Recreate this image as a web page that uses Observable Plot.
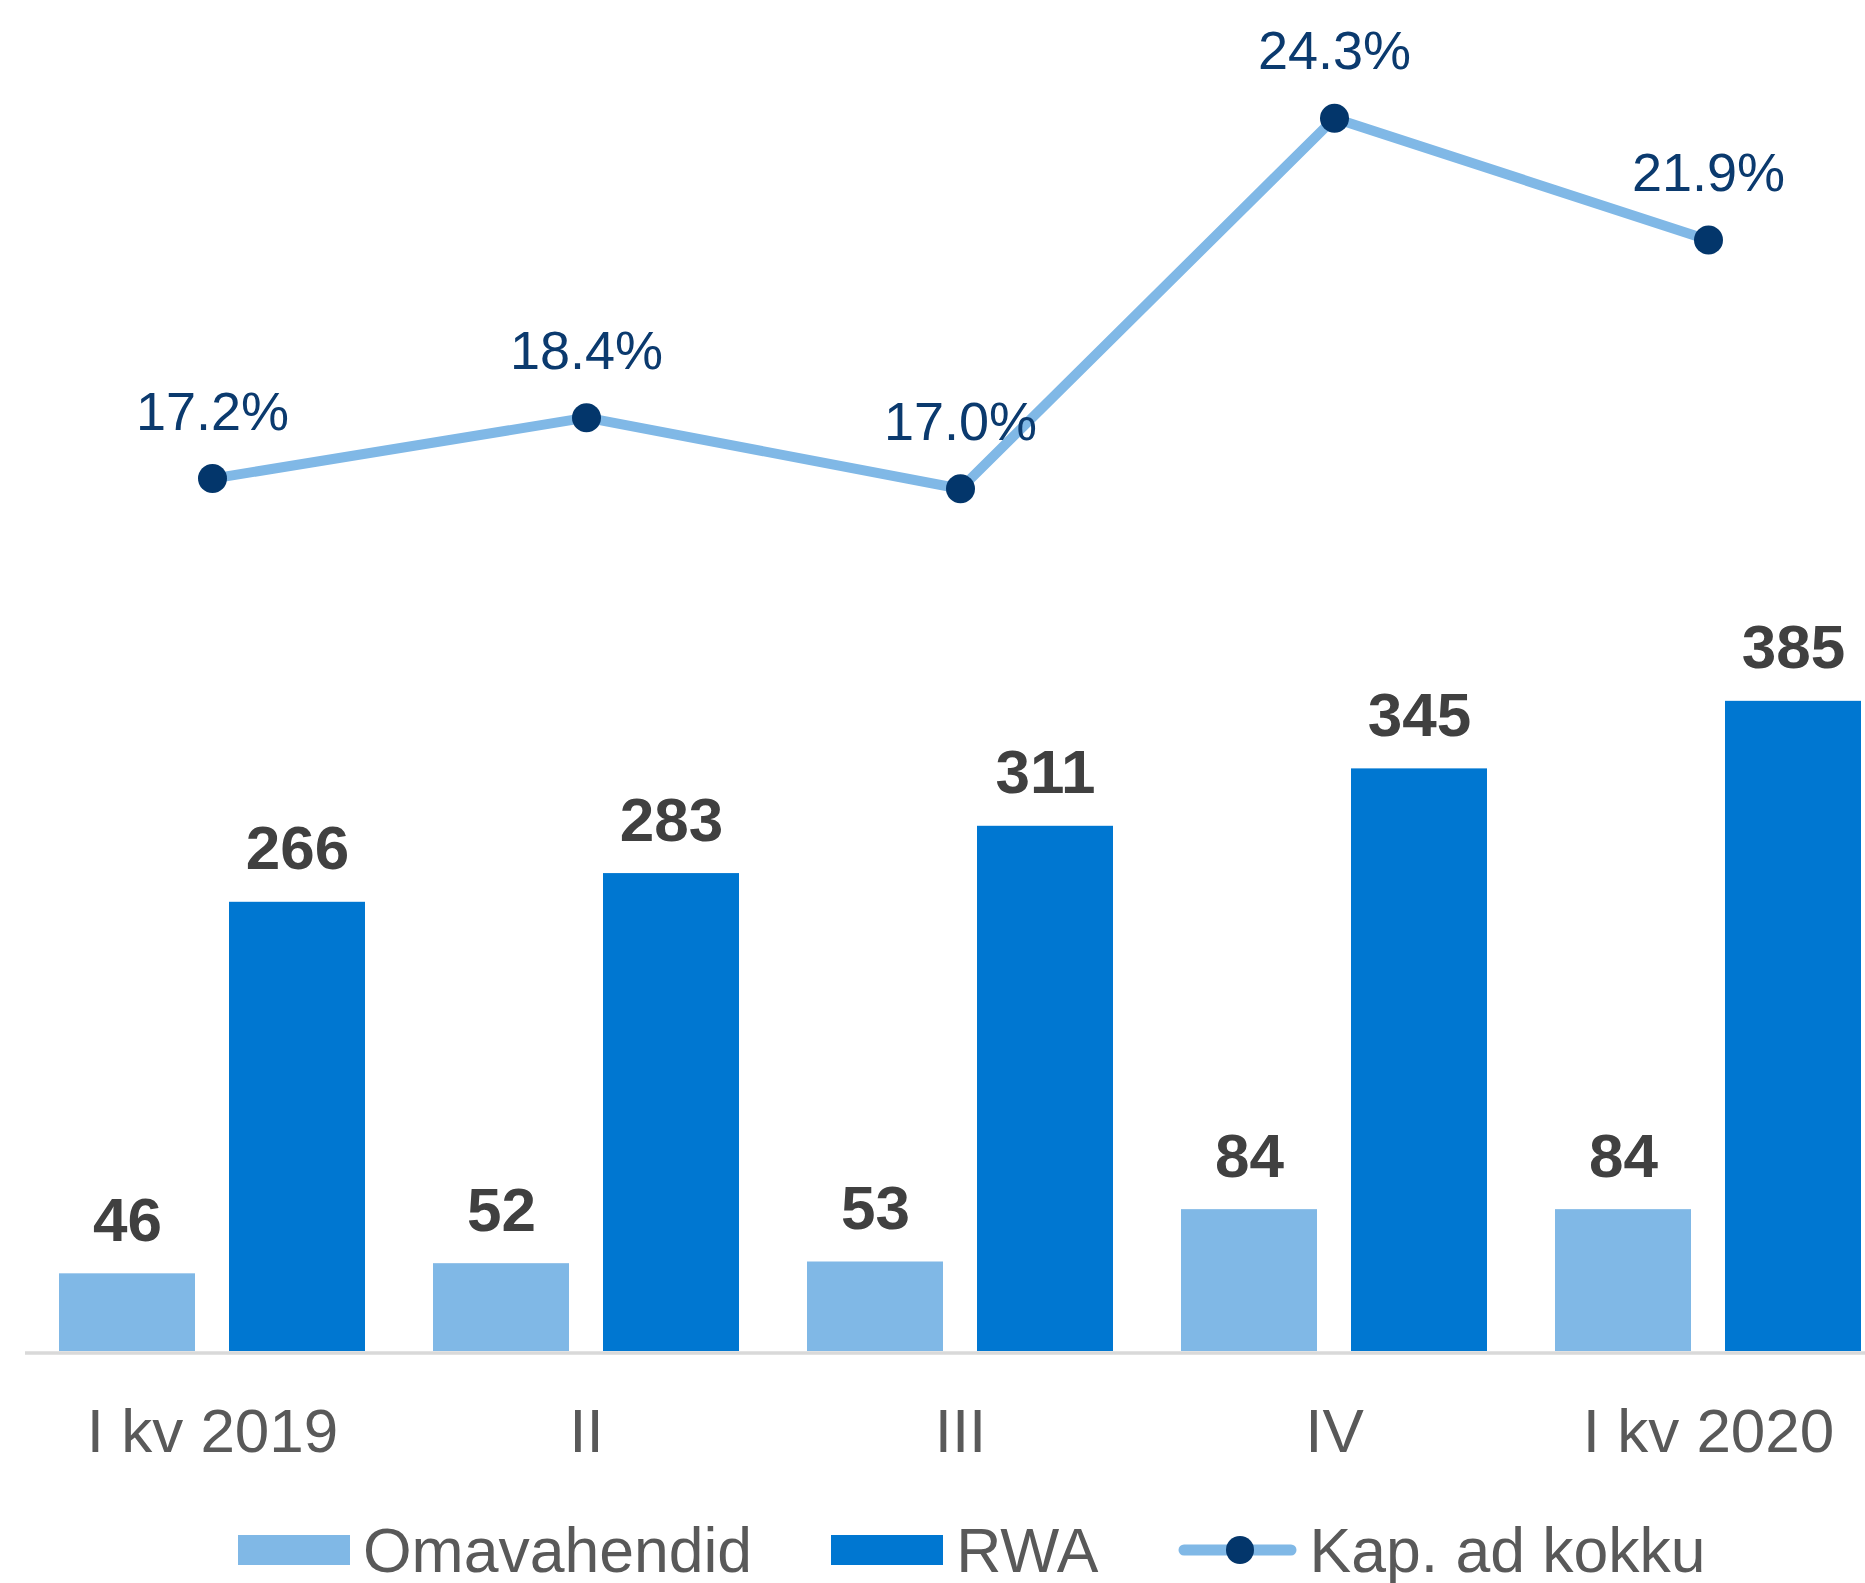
<!DOCTYPE html>
<html>
<head>
<meta charset="utf-8">
<script src="https://cdn.jsdelivr.net/npm/d3@7"></script>
<script src="https://cdn.jsdelivr.net/npm/@observablehq/plot@0.6"></script>
<style>
  html, body { margin: 0; padding: 0; background: #fff; overflow: hidden; }
  body { font-family: "Liberation Sans", Arial, sans-serif; }
  #chart { position: relative; width: 1865px; height: 1480px; }
  #chart svg { position: absolute; left: 0; top: 0; }
  #legend { display: flex; align-items: center; height: 140px; margin-left: 238px; font-size: 62.5px; color: #595959; line-height: 1; }
  .item { display: flex; align-items: center; margin-right: 79px; }
  .sw { display: inline-block; width: 112px; height: 30px; margin-right: 13px; }
  .lsw { margin-right: 13px; }
</style>
</head>
<body>
<div id="chart"></div>
<div id="legend"></div>
<script>
// ---- data ----
const quarters = ["I kv 2019", "II", "III", "IV", "I kv 2020"];
const omavahendid = [46, 52, 53, 84, 84];
const rwa = [266, 283, 311, 345, 385];
const kapAdKokku = [17.2, 18.4, 17.0, 24.3, 21.9];
const seriesNames = ["Omavahendid", "RWA"];
const lineName = "Kap. ad kokku";

const seriesColors = ["#80B8E6", "#0077D1"];
const lineColor = "#80B8E6";
const dotColor = "#03366B";
const FONT = "'Liberation Sans', Arial, sans-serif";

const bars = [];
quarters.forEach((q, i) => {
  bars.push({quarter: q, series: seriesNames[0], value: omavahendid[i]});
  bars.push({quarter: q, series: seriesNames[1], value: rwa[i]});
});
const kap = quarters.map((q, i) => ({quarter: q, ratio: kapAdKokku[i]}));

const W = 1865, H = 1480, MB = 129;

const barPlot = Plot.plot({
  width: W, height: H,
  marginTop: 0, marginBottom: MB, marginLeft: 25, marginRight: 0,
  style: {fontFamily: FONT, background: "transparent", overflow: "visible"},
  fx: {domain: quarters, range: [25, 1895], padding: 0, label: null, axis: null},
  x: {domain: seriesNames, padding: 0.2, axis: null},
  y: {domain: [0, 800], axis: null},
  color: {domain: seriesNames, range: seriesColors},
  marks: [
    Plot.barY(bars, {fx: "quarter", x: "series", y: "value", fill: "series"}),
    Plot.text(bars, {fx: "quarter", x: "series", y: "value", text: d => String(d.value),
      lineAnchor: "bottom", dy: -33, fontSize: 62, fontWeight: "bold", fill: "#404040"}),
    Plot.ruleY([0], {stroke: "#D9D9D9", strokeWidth: 3.5, dy: 1.5}),
    Plot.axisFx({anchor: "bottom", tickSize: 0, tickPadding: 56, fontSize: 62, color: "#595959", label: null})
  ]
});

const linePlot = Plot.plot({
  width: W, height: H,
  marginTop: 0, marginBottom: MB, marginLeft: 0, marginRight: 0,
  style: {fontFamily: FONT, background: "transparent", overflow: "visible"},
  x: {type: "point", domain: quarters, range: [25, 1895], padding: 0.5, axis: null},
  y: {domain: [0, 26.62], axis: null},
  marks: [
    Plot.lineY(kap, {x: "quarter", y: "ratio", stroke: lineColor, strokeWidth: 10, strokeLinejoin: "round"}),
    Plot.dot(kap, {x: "quarter", y: "ratio", r: 14.5, fill: dotColor, stroke: "none"}),
    Plot.text(kap, {x: "quarter", y: "ratio", text: d => d.ratio.toFixed(1) + "%",
      lineAnchor: "bottom", dy: -49, fontSize: 54, fill: "#0B3A6E"})
  ]
});

const chart = document.getElementById("chart");
chart.appendChild(barPlot);
chart.appendChild(linePlot);

// ---- legend ----
const legend = document.getElementById("legend");
seriesNames.forEach((name, i) => {
  const it = document.createElement("div");
  it.className = "item";
  it.innerHTML = `<span class="sw" style="background:${seriesColors[i]}"></span><span>${name}</span>`;
  legend.appendChild(it);
});
const li = document.createElement("div");
li.className = "item";
li.innerHTML = `<svg class="lsw" width="119" height="30" viewBox="0 0 119 30"><line x1="6" y1="15" x2="113" y2="15" stroke="${lineColor}" stroke-width="11" stroke-linecap="round"/><circle cx="62" cy="15" r="14" fill="${dotColor}"/></svg><span>${lineName}</span>`;
legend.appendChild(li);
</script>
</body>
</html>
